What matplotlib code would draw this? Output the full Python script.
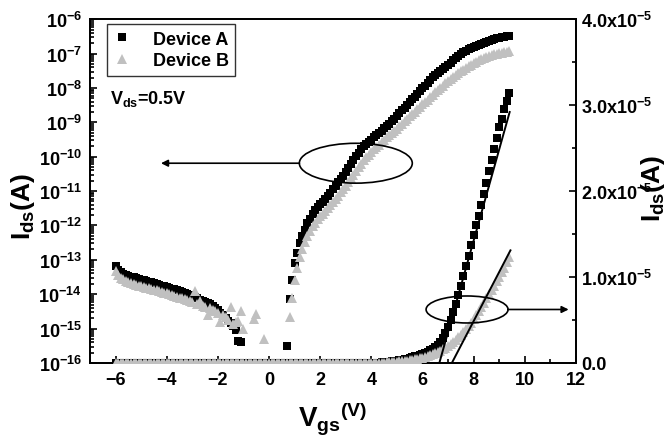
import numpy as np
import matplotlib
matplotlib.use("Agg")
from matplotlib import pyplot as plt
from matplotlib.ticker import LogLocator, MultipleLocator, FixedLocator, FuncFormatter, NullFormatter
from matplotlib.patches import Ellipse

plt.rcParams['font.family'] = ['Liberation Sans', 'DejaVu Sans']
plt.rcParams['font.weight'] = 'bold'
plt.rcParams['mathtext.fontset'] = 'custom'
plt.rcParams['mathtext.rm'] = 'Liberation Sans:bold'
plt.rcParams['mathtext.it'] = 'Liberation Sans:bold'
plt.rcParams['mathtext.bf'] = 'Liberation Sans:bold'

# gate voltage sweep, 0.1 V step from -6.0 to 9.4 V
vgs = np.round(np.arange(-6.0, 9.45, 0.1), 1)

nan = np.nan

# log10(Ids) for the log plot (left axis)
log_a = [
    # -6.0 .. -1.1
    -13.18, -13.30, -13.36, -13.40, -13.44, -13.46, -13.49, -13.51, -13.53, -13.56,
    -13.58, -13.60, -13.62, -13.64, -13.66, -13.68, -13.70, -13.72, -13.75, -13.77,
    -13.79, -13.81, -13.84, -13.86, -13.89, -13.92, -13.94, -13.97, -14.00, -14.03,
    -14.06, -14.09, -14.12, -14.16, -14.19, -14.22, -14.26, -14.30, -14.34, -14.40,
    -14.46, -14.54, -14.62, -14.70, -14.77, -14.85, -14.93, -15.05, -15.36, -15.38,
    # -1.0 .. 0.6
    nan, nan, nan, nan, nan, nan, nan, nan, nan, nan, nan, nan, nan, nan, nan, nan, nan,
    # 0.7 .. 3.7
    -15.5,
    -14.15, -13.60, -13.10, -12.80, -12.52, -12.30, -12.12, -11.93, -11.80, -11.68,
    -11.56, -11.47, -11.39, -11.31, -11.23, -11.15, -11.05, -10.95, -10.85, -10.74,
    -10.64, -10.55, -10.45, -10.34, -10.22, -10.10, -9.98, -9.88, -9.78, -9.69,
    # 3.8 .. 9.4
    -9.63, -9.56, -9.50, -9.43, -9.37, -9.30, -9.24, -9.17, -9.11, -9.04,
    -8.97, -8.89, -8.81, -8.73, -8.65, -8.57, -8.49, -8.41, -8.33, -8.25,
    -8.17, -8.09, -8.01, -7.93, -7.85, -7.77, -7.69, -7.63, -7.57, -7.50,
    -7.44, -7.38, -7.32, -7.26, -7.20, -7.14, -7.08, -7.02, -6.96, -6.92,
    -6.88, -6.85, -6.82, -6.78, -6.75, -6.72, -6.69, -6.66, -6.63, -6.61,
    -6.58, -6.56, -6.55, -6.53, -6.52, -6.50, -6.49,
]

log_b = [
    # -6.0 .. -1.0
    -13.33, -13.45, -13.52, -13.57, -13.61, -13.64, -13.67, -13.70, -13.72, -13.75,
    -13.77, -13.79, -13.81, -13.83, -13.85, -13.87, -13.89, -13.91, -13.93, -13.96,
    -13.98, -14.00, -14.02, -14.05, -14.07, -14.10, -14.12, -14.15, -14.18, -14.20,
    -14.23, -13.91, -14.28, -14.20, -14.33, -14.36, -14.62, -14.40, -14.45, -14.50,
    -14.55, -14.82, -14.60, -14.66, -14.75, -14.37, -14.87, -14.80, -14.78, -14.49,
    -15.00,
    # -0.9 .. 0.7
    nan, nan, nan, -14.72, -14.58, nan, nan, -15.30, nan, nan, nan, nan, nan, nan, nan, nan, nan,
    # 0.8 .. 3.7
    -14.65, -14.10, -13.60, -13.25, -12.92, -12.68, -12.47, -12.30, -12.15, -12.03,
    -11.92, -11.82, -11.74, -11.66, -11.58, -11.50, -11.41, -11.32, -11.23, -11.13,
    -11.03, -10.94, -10.84, -10.74, -10.63, -10.52, -10.41, -10.30, -10.20, -10.10,
    # 3.8 .. 9.4
    -10.02, -9.94, -9.86, -9.79, -9.72, -9.65, -9.58, -9.51, -9.44, -9.38,
    -9.32, -9.25, -9.18, -9.11, -9.04, -8.97, -8.90, -8.83, -8.76, -8.69,
    -8.62, -8.55, -8.48, -8.41, -8.34, -8.27, -8.20, -8.13, -8.06, -7.99,
    -7.93, -7.87, -7.81, -7.75, -7.69, -7.63, -7.57, -7.52, -7.47, -7.42,
    -7.37, -7.33, -7.28, -7.24, -7.20, -7.16, -7.13, -7.10, -7.07, -7.04,
    -7.02, -7.00, -6.98, -6.97, -6.95, -6.94, -6.93,
]

# Ids in units of 1e-6 A for the linear plot (right axis)
lin_a = [
    # -6.0 .. 3.9
    0, 0, 0, 0, 0, 0, 0, 0, 0, 0,
    0, 0, 0, 0, 0, 0, 0, 0, 0, 0,
    0, 0, 0, 0, 0, 0, 0, 0, 0, 0,
    0, 0, 0, 0, 0, 0, 0, 0, 0, 0,
    0, 0, 0, 0, 0, 0, 0, 0, 0, 0,
    0, 0, 0, 0, 0, 0, 0, 0, 0, 0,
    0, 0, 0, 0, 0, 0, 0, 0, 0, 0,
    0, 0, 0, 0, 0, 0, 0, 0, 0, 0,
    0, 0, 0, 0, 0, 0, 0, 0, 0, 0,
    0, 0, 0, 0, 0, 0, 0, 0, 0, 0,
    # 4.0 .. 9.4
    0.02, 0.03, 0.04, 0.05, 0.07, 0.09, 0.11, 0.14, 0.17, 0.21,
    0.25, 0.30, 0.35, 0.41, 0.48, 0.56, 0.65, 0.75, 0.84, 0.92,
    1.00, 1.15, 1.30, 1.45, 1.65, 1.85, 2.10, 2.45, 2.90, 3.50,
    4.20, 5.00, 5.90, 6.90, 7.90, 9.00, 10.1, 11.3, 12.5, 13.7,
    14.9, 16.0, 17.1, 18.4, 19.7, 20.9, 22.3, 23.6, 24.9, 26.2,
    27.4, 28.4, 29.5, 30.5, 31.4,
]

lin_b = [
    # -6.0 .. 3.9
    0, 0, 0, 0, 0, 0, 0, 0, 0, 0,
    0, 0, 0, 0, 0, 0, 0, 0, 0, 0,
    0, 0, 0, 0, 0, 0, 0, 0, 0, 0,
    0, 0, 0, 0, 0, 0, 0, 0, 0, 0,
    0, 0, 0, 0, 0, 0, 0, 0, 0, 0,
    0, 0, 0, 0, 0, 0, 0, 0, 0, 0,
    0, 0, 0, 0, 0, 0, 0, 0, 0, 0,
    0, 0, 0, 0, 0, 0, 0, 0, 0, 0,
    0, 0, 0, 0, 0, 0, 0, 0, 0, 0,
    0, 0, 0, 0, 0, 0, 0, 0, 0, 0,
    # 4.0 .. 9.4
    0.00, 0.01, 0.02, 0.03, 0.04, 0.05, 0.06, 0.08, 0.10, 0.12,
    0.14, 0.17, 0.20, 0.23, 0.27, 0.31, 0.36, 0.41, 0.47, 0.54,
    0.61, 0.69, 0.78, 0.88, 0.99, 1.11, 1.25, 1.40, 1.57, 1.76,
    1.96, 2.18, 2.42, 2.68, 2.96, 3.26, 3.58, 3.92, 4.28, 4.66,
    5.10, 5.55, 6.00, 6.50, 7.00, 7.50, 8.00, 8.50, 9.00, 9.50,
    10.0, 10.6, 11.1, 11.7, 12.3,
]

# threshold extrapolation lines (Vgs, Ids in 1e-6 A)
fit_a_x = [6.66, 9.41]
fit_a_y = [0.0, 29.2]
fit_b_x = [7.15, 9.44]
fit_b_y = [0.0, 13.1]

gray = '#c0c0c0'

fig = plt.figure(figsize=(6.72, 4.39), dpi=100)
ax1 = fig.add_axes([0.134, 0.171, 0.723, 0.783])
ax2 = ax1.twinx()

ids_a = 10 ** np.array(log_a)
ids_b = 10 ** np.array(log_b)
la, = ax1.plot(vgs, ids_a, 's', color='black', ms=5.3, mew=0, label='Device A', zorder=3)
lb, = ax1.plot(vgs, ids_b, '^', color=gray, ms=7, mew=0, label='Device B', zorder=4)
ax1.set_yscale('log')
ax1.set_ylim(1e-16, 1e-6)
ax1.set_xlim(-7, 12)

ax2.plot(vgs, np.array(lin_a) * 1e-6, 's', color='black', ms=5.3, mew=0, zorder=3)
ax2.plot(vgs, np.array(lin_b) * 1e-6, '^', color=gray, ms=7, mew=0, zorder=4)
ax2.plot(fit_a_x, np.array(fit_a_y) * 1e-6, color='black', lw=1.4, zorder=5)
ax2.plot(fit_b_x, np.array(fit_b_y) * 1e-6, color='black', lw=1.4, zorder=5)
ax2.set_ylim(0, 4e-5)

# ticks
ax1.xaxis.set_major_locator(MultipleLocator(2))
ax1.xaxis.set_minor_locator(MultipleLocator(1))
ax1.yaxis.set_major_locator(FixedLocator([10.0 ** k for k in range(-16, -5)]))
ax1.yaxis.set_minor_locator(LogLocator(base=10, subs=np.arange(2, 10), numticks=20))
ax1.yaxis.set_minor_formatter(NullFormatter())
ax1.yaxis.set_major_formatter(FuncFormatter(lambda v, p: r'$10^{%d}$' % round(np.log10(v))))
ax1.tick_params(which='both', direction='in', top=False, right=False, width=1.2, labelsize=13)
ax1.tick_params(which='major', length=5, pad=6)
ax1.tick_params(which='minor', length=3)

ax2.yaxis.set_major_locator(MultipleLocator(1e-5))
ax2.yaxis.set_minor_locator(MultipleLocator(0.5e-5))
ax2.yaxis.set_major_formatter(FuncFormatter(
    lambda v, p: '0.0' if v == 0 else r'$%.1f\mathrm{x}10^{-5}$' % (v / 1e-5)))
ax2.tick_params(which='both', direction='in', width=1.2, labelsize=13)
ax2.tick_params(which='major', length=5, pad=4)
ax2.tick_params(which='minor', length=3)

for ax in (ax1, ax2):
    for s in ax.spines.values():
        s.set_linewidth(1.3)

# labels
ax1.set_xlabel(r'$V_{gs}{}^{(V)}$', fontsize=20, labelpad=8)
fig.text(0.034, 0.53, r'$I_{ds}(A)$', rotation=90, fontsize=19, ha='center', va='center')
fig.text(0.972, 0.57, r'$I_{ds}(A)$', rotation=90, fontsize=19, ha='center', va='center')
ax1.text(0.041, 0.77, r'$V_{ds}$=0.5V', transform=ax1.transAxes, fontsize=13,
         ha='left', va='center')

# ellipses and arrows
ax2.add_patch(Ellipse((0.547, 0.581), 0.2325, 0.116, transform=ax2.transAxes,
                      fill=False, lw=1.2, ec='black', zorder=6))
ax2.annotate('', xy=(0.146, 0.581), xytext=(0.431, 0.581), xycoords='axes fraction',
             arrowprops=dict(arrowstyle='-|>', lw=1.2, color='black', mutation_scale=10,
                             shrinkA=0, shrinkB=0))
ax2.add_patch(Ellipse((0.776, 0.1555), 0.1687, 0.0785, transform=ax2.transAxes,
                      fill=False, lw=1.2, ec='black', zorder=6))
ax2.annotate('', xy=(0.985, 0.1555), xytext=(0.860, 0.1555), xycoords='axes fraction',
             arrowprops=dict(arrowstyle='-|>', lw=1.2, color='black', mutation_scale=10,
                             shrinkA=0, shrinkB=0))

leg = ax2.legend(handles=[la, lb], loc='upper left', bbox_to_anchor=(0.035, 0.985),
                 borderaxespad=0, fancybox=False, edgecolor='black', fontsize=13,
                 handlelength=1.0, handletextpad=1.2, borderpad=0.35, labelspacing=0.25,
                 markerscale=1.1)
leg.get_frame().set_linewidth(1.0)

fig.savefig('out.png', dpi=100)
